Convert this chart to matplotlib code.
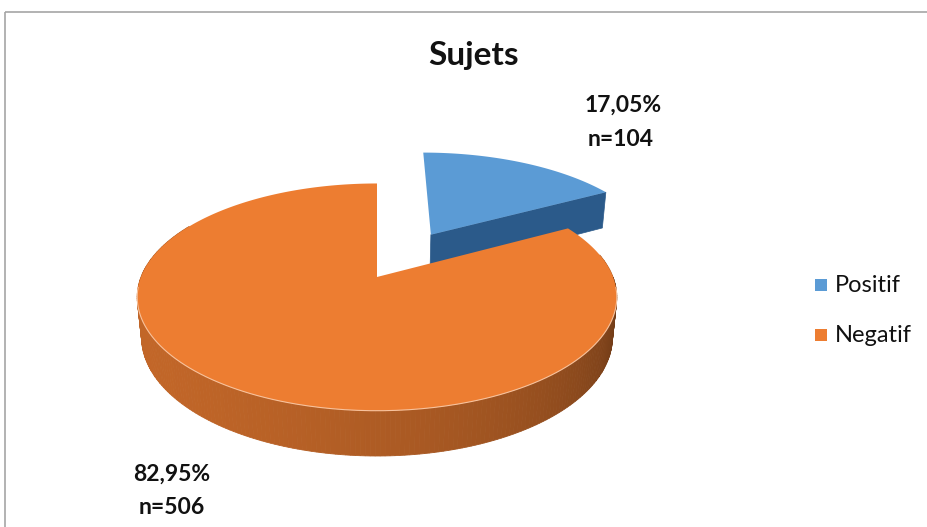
import numpy as np
import matplotlib.pyplot as plt
from matplotlib.patches import Polygon, Rectangle
from matplotlib.colors import to_rgb

# donnees
labels = ['Positif', 'Negatif']
counts = [104, 506]
top_colors = ['#5B9BD5', '#ED7D31']
side_colors = ['#2B5A8A', '#ED7D31']
titre = 'Sujets'

total = sum(counts)
fracs = [c / total for c in counts]
pct_txt = [('%.2f%%' % (f * 100)).replace('.', ',') for f in fracs]

# vue 3D (perspective simple), origine ecran du centre du camembert
OX, OY = 377, 277
F, D = 1180.0, 5.0
PHI = np.radians(27.8)
S, C = np.sin(PHI), np.cos(PHI)
H = 0.194
EXPLODE = [0.48, 0.0]

plt.rcParams['font.family'] = ['Lato', 'DejaVu Sans']

fig = plt.figure(figsize=(9.27, 5.27), dpi=100)
ax = fig.add_axes([0, 0, 1, 1])
ax.set_xlim(0, 927)
ax.set_ylim(527, 0)
ax.axis('off')

ax.add_patch(Rectangle((5, 12), 940, 540, fill=False, edgecolor='#A6A6A6', lw=1.2))


def proj(x, y, z):
    cz = D + y * C - z * S
    cy = y * S + z * C
    return OX + F * x / cz, OY - F * cy / cz


def shade(col, k):
    r, g, b = to_rgb(col)
    return (r * k, g * k, b * k)


# angles : depart a 12h, sens horaire
parts = []
a0 = np.pi / 2
for f in fracs:
    parts.append((a0, a0 - 2 * np.pi * f))
    a0 -= 2 * np.pi * f

offs = []
for i, (a1, a2) in enumerate(parts):
    mid = (a1 + a2) / 2
    offs.append((EXPLODE[i] * np.cos(mid), EXPLODE[i] * np.sin(mid)))


def arc(i, aa, z=0.0):
    ox, oy = offs[i]
    return proj(ox + np.cos(aa), oy + np.sin(aa), z)


def top_face(i, n=400):
    a1, a2 = parts[i]
    ox, oy = offs[i]
    px, py = proj(ox, oy, 0.0)
    xs, ys = arc(i, np.linspace(a1, a2, n))
    return np.column_stack([np.r_[px, xs], np.r_[py, ys]])


# Positif : face coupee + dessus
a1, a2 = parts[0]
ox, oy = offs[0]
cx0, cy0 = proj(ox, oy, 0.0)
cx1, cy1 = proj(ox, oy, -H)
ex0, ey0 = arc(0, a2)
ex1, ey1 = arc(0, a2, -H)
ax.add_patch(Polygon([(cx0, cy0), (ex0, ey0), (ex1, ey1), (cx1, cy1)], closed=True,
                     facecolor=side_colors[0], edgecolor=side_colors[0], lw=0.5))
ax.add_patch(Polygon(top_face(0), closed=True, facecolor=top_colors[0], edgecolor='none'))

# Negatif : cote avant degrade (du fond vers l'avant) puis dessus
a1, a2 = parts[1]
lo = max(a2, np.radians(150) - 2 * np.pi)
hi = min(a1, np.radians(372) - 2 * np.pi)
edges = np.linspace(lo, hi, 220)
strips = []
for s_, e_ in zip(edges[:-1], edges[1:]):
    m = (s_ + e_) / 2
    depth = D + np.sin(m) * C
    strips.append((depth, s_, e_))
strips.sort(key=lambda t: -t[0])
for depth, s_, e_ in strips:
    t = np.clip((np.degrees((s_ + e_) / 2) % 360 - 180) / 180, 0, 1.1)
    k = 0.82 - 0.06 * np.exp(-t * 20) + 0.03 * np.sin(t * np.pi) - 0.40 * t ** 1.8
    col = shade(side_colors[1], max(k, 0.42))
    aa = np.linspace(s_, e_, 3)
    xs, ys = arc(1, aa)
    xb, yb = arc(1, aa[::-1], -H)
    ax.add_patch(Polygon(np.column_stack([np.r_[xs, xb], np.r_[ys, yb]]), closed=True,
                         facecolor=col, edgecolor=col, lw=0.6))

ax.add_patch(Polygon(top_face(1), closed=True, facecolor=top_colors[1], edgecolor='none'))
xs, ys = arc(1, np.linspace(np.pi * 1.03, np.pi * 1.97, 200))
ax.plot(xs, ys, color='#F8C29C', lw=0.8)

# titre et etiquettes
bold = dict(fontweight='bold', ha='center', va='center', color='#111111')
ax.text(474, 56, titre, fontsize=24, **bold)
ax.text(623, 105, pct_txt[0], fontsize=16.5, **bold)
ax.text(621, 139, 'n=%d' % counts[0], fontsize=16.5, **bold)
ax.text(172, 474, pct_txt[1], fontsize=16.5, **bold)
ax.text(172, 508, 'n=%d' % counts[1], fontsize=16.5, **bold)

# legende
for i, lab in enumerate(labels):
    y = 285 + i * 50
    ax.add_patch(Rectangle((815, y - 6), 12, 12, facecolor=top_colors[i], edgecolor='none'))
    ax.text(835, y, lab, fontsize=17, ha='left', va='center', color='#111111')

fig.savefig('out.png', dpi=100)
